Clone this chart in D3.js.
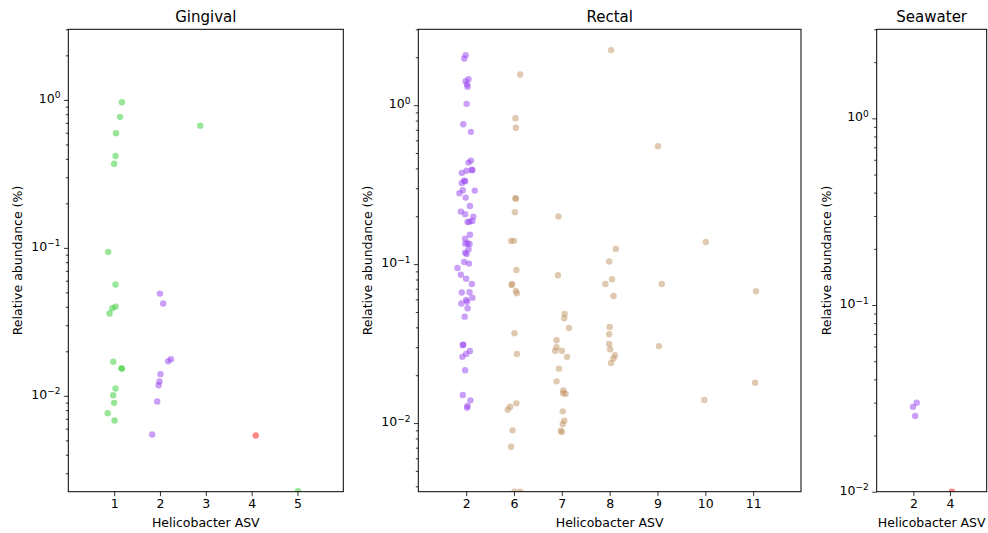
<!DOCTYPE html>
<html>
<head>
<meta charset="utf-8">
<script src="https://cdn.jsdelivr.net/npm/d3@7"></script>
<style>
  body { margin: 0; background: #fff; }
  svg text { font-family: "DejaVu Sans", sans-serif; fill: #000; }
</style>
</head>
<body>
<svg id="chart" width="988" height="533"></svg>
<script>
// Helicobacter ASV categories shown in each sample type
const gingivalAsv = [1, 2, 3, 4, 5];
const rectalAsv = [2, 6, 7, 8, 9, 10, 11];
const seawaterAsv = [2, 4];

// y limits, relative abundance (%)
const gingivalYLim = [0.00225, 3];
const rectalYLim = [0.0037, 3];
const seawaterYLim = [0.01, 3];

// points: [asv, strip jitter, relative abundance (%)]
const gingivalPoints = [
  [1, 0.17, 0.965], [1, 0.13, 0.768], [1, 0.04, 0.596], [1, 0.03, 0.418],
  [1, 0.00, 0.370], [1, -0.13, 0.094], [1, 0.03, 0.0565], [1, 0.03, 0.0401],
  [1, -0.04, 0.0391], [1, -0.10, 0.0360], [1, -0.02, 0.0170], [1, 0.16, 0.01534],
  [1, 0.17, 0.01528], [1, 0.03, 0.0112], [1, -0.02, 0.0101], [1, 0.00, 0.00897],
  [1, -0.14, 0.00764], [1, 0.01, 0.00681],
  [2, 0.00, 0.0491], [2, 0.07, 0.0421], [2, 0.24, 0.0177], [2, 0.18, 0.01715],
  [2, 0.01, 0.01402], [2, -0.01, 0.0125], [2, -0.03, 0.0118], [2, -0.06, 0.00916],
  [2, -0.17, 0.00548],
  [3, -0.12, 0.670],
  [4, 0.09, 0.0054],
  [5, 0.01, 0.00227]
];

const rectalPoints = [
  [2, -0.01, 2.064], [2, -0.04, 1.966], [2, 0.05, 1.458], [2, -0.01, 1.416],
  [2, 0.02, 1.348], [2, 0.03, 1.304], [2, 0.01, 1.019], [2, -0.06, 0.759],
  [2, 0.10, 0.679], [2, 0.10, 0.448], [2, 0.05, 0.435], [2, 0.13, 0.390],
  [2, 0.12, 0.392], [2, 0.01, 0.387], [2, -0.09, 0.375], [2, -0.04, 0.335],
  [2, -0.02, 0.332], [2, -0.09, 0.324], [2, -0.07, 0.2917], [2, -0.14, 0.279],
  [2, 0.18, 0.290], [2, -0.01, 0.262], [2, 0.08, 0.232], [2, -0.11, 0.214],
  [2, -0.02, 0.206], [2, 0.15, 0.199], [2, 0.13, 0.187], [2, 0.03, 0.184],
  [2, 0.07, 0.185], [2, 0.08, 0.153], [2, -0.02, 0.1446], [2, 0.03, 0.1353],
  [2, 0.07, 0.1339], [2, -0.02, 0.1345], [2, 0.05, 0.124], [2, -0.02, 0.118],
  [2, 0.01, 0.1158], [2, -0.04, 0.1031], [2, 0.06, 0.1007], [2, -0.18, 0.0946],
  [2, -0.11, 0.0858], [2, 0.00, 0.081], [2, 0.12, 0.075], [2, -0.09, 0.0663],
  [2, 0.07, 0.0665], [2, 0.13, 0.0615], [2, 0.00, 0.0595], [2, 0.02, 0.058],
  [2, -0.10, 0.0565], [2, 0.03, 0.0528], [2, -0.03, 0.0467], [2, -0.06, 0.0311],
  [2, -0.07, 0.0310], [2, 0.08, 0.0284], [2, 0.00, 0.0272], [2, -0.08, 0.0261],
  [2, -0.02, 0.0215], [2, -0.07, 0.0150], [2, 0.09, 0.0139], [2, 0.03, 0.0128],
  [2, 0.02, 0.0125],
  [6, 0.13, 1.558], [6, 0.03, 0.828], [6, 0.04, 0.720], [6, 0.03, 0.260],
  [6, 0.04, 0.258], [6, 0.02, 0.212], [6, -0.06, 0.140], [6, 0.00, 0.140],
  [6, 0.05, 0.0919], [6, -0.04, 0.075], [6, -0.05, 0.074], [6, 0.04, 0.0678],
  [6, 0.06, 0.0655], [6, 0.01, 0.0367], [6, 0.06, 0.0272], [6, -0.08, 0.01267],
  [6, -0.13, 0.01213], [6, 0.05, 0.0133], [6, -0.03, 0.0090], [6, -0.06, 0.0071],
  [6, 0.01, 0.0037], [6, 0.13, 0.0037],
  [7, -0.08, 0.0851], [7, -0.07, 0.1995], [7, 0.06, 0.0486], [7, 0.05, 0.0456],
  [7, 0.15, 0.0396], [7, -0.11, 0.0332], [7, -0.11, 0.0300], [7, -0.14, 0.0285],
  [7, 0.00, 0.0285], [7, 0.11, 0.0261], [7, -0.06, 0.0220], [7, -0.11, 0.0183],
  [7, 0.03, 0.01606], [7, 0.03, 0.0154], [7, 0.08, 0.0153], [7, 0.02, 0.01185],
  [7, 0.05, 0.01034], [7, 0.02, 0.00986], [7, -0.02, 0.00894], [7, 0.00, 0.00878],
  [8, 0.03, 2.220], [8, 0.13, 0.1246], [8, -0.01, 0.1039], [8, 0.05, 0.0803],
  [8, -0.09, 0.075], [8, 0.08, 0.0630], [8, 0.00, 0.0402], [8, -0.01, 0.0362],
  [8, -0.01, 0.0314], [8, 0.01, 0.0291], [8, 0.11, 0.0267], [8, 0.08, 0.0255],
  [8, 0.03, 0.0239],
  [9, 0.01, 0.552], [9, 0.09, 0.075], [9, 0.03, 0.0305],
  [10, 0.01, 0.1378], [10, -0.02, 0.01396],
  [11, 0.06, 0.0675], [11, 0.04, 0.01794]
];

const seawaterPoints = [
  [2, -0.01, 0.02848], [2, 0.09, 0.0300], [2, 0.05, 0.02548],
  [4, 0.05, 0.0100]
];

// colour of each ASV (drawn at half opacity)
const asvColor = {
  1: "#32cd32", 3: "#32cd32", 5: "#32cd32",
  2: "#9540f0",
  4: "#ff1212",
  6: "#c19463", 7: "#c19463", 8: "#c19463", 9: "#c19463", 10: "#c19463", 11: "#c19463"
};

const svg = d3.select("#chart");
const axTop = 29.3, axBottom = 491.7;

const panels = [
  { title: "Gingival", left: 68.3, right: 343.3, cats: gingivalAsv, points: gingivalPoints, ylim: gingivalYLim },
  { title: "Rectal", left: 418.3, right: 801, cats: rectalAsv, points: rectalPoints, ylim: rectalYLim },
  { title: "Seawater", left: 876.7, right: 986.7, cats: seawaterAsv, points: seawaterPoints, ylim: seawaterYLim }
];

const supMap = { "0": "0", "-1": "\u22121", "-2": "\u22122", "-3": "\u22123" };

panels.forEach((p, i) => {
  const x = d3.scaleLinear().domain([0, p.cats.length + 1]).range([p.left, p.right]);
  const y = d3.scaleLog().domain(p.ylim).range([axBottom, axTop]);
  const g = svg.append("g");

  // clip so points on the limits are cut like in matplotlib
  svg.append("clipPath").attr("id", "clip" + i)
    .append("rect")
    .attr("x", p.left).attr("y", axTop)
    .attr("width", p.right - p.left).attr("height", axBottom - axTop);

  // major / minor log ticks
  const majors = [], minors = [];
  for (let e = -3; e <= 0; e++) {
    for (let m = 1; m <= 9; m++) {
      const v = m * Math.pow(10, e);
      if (v < p.ylim[0] * 0.999 || v > p.ylim[1] * 1.001) continue;
      (m === 1 ? majors : minors).push(v);
    }
  }

  g.append("g")
    .attr("transform", `translate(${p.left},0)`)
    .call(d3.axisLeft(y).tickValues(minors).tickSize(2.5).tickFormat(""))
    .call(a => a.select(".domain").remove())
    .call(a => a.selectAll("line").attr("stroke", "#000").attr("stroke-width", 0.8));

  const yAx = g.append("g")
    .attr("transform", `translate(${p.left},0)`)
    .call(d3.axisLeft(y).tickValues(majors).tickSize(4.4).tickPadding(3.5).tickFormat(""))
    .call(a => a.select(".domain").remove())
    .call(a => a.selectAll("line").attr("stroke", "#000").attr("stroke-width", 0.8));

  yAx.selectAll(".tick text")
    .attr("font-size", 12.5)
    .attr("fill", "#000")
    .attr("dy", "0.2em")
    .each(function (d) {
      const t = d3.select(this);
      const ex = Math.round(Math.log10(d));
      t.append("tspan").text("10");
      t.append("tspan").attr("dy", "-0.5em").attr("font-size", 9).text(supMap[String(ex)]);
    });

  const xAx = g.append("g")
    .attr("transform", `translate(0,${axBottom})`)
    .call(d3.axisBottom(x)
      .tickValues(p.cats.map((c, k) => k + 1))
      .tickFormat((d, k) => p.cats[k])
      .tickSize(4.4).tickPadding(3))
    .call(a => a.select(".domain").remove())
    .call(a => a.selectAll("line").attr("stroke", "#000").attr("stroke-width", 0.8));
  xAx.selectAll("text").attr("font-size", 12.5).attr("fill", "#000");

  // points
  const catIndex = new Map(p.cats.map((c, k) => [c, k + 1]));
  g.append("g")
    .attr("clip-path", `url(#clip${i})`)
    .selectAll("circle")
    .data(p.points)
    .enter().append("circle")
    .attr("cx", d => x(catIndex.get(d[0]) + d[1]))
    .attr("cy", d => y(d[2]))
    .attr("r", 3.2)
    .attr("fill", d => asvColor[d[0]])
    .attr("fill-opacity", 0.5);

  // frame
  g.append("rect")
    .attr("x", p.left).attr("y", axTop)
    .attr("width", p.right - p.left).attr("height", axBottom - axTop)
    .attr("fill", "none").attr("stroke", "#000").attr("stroke-width", 1);

  // titles and labels
  g.append("text")
    .attr("x", (p.left + p.right) / 2).attr("y", 21.5)
    .attr("text-anchor", "middle").attr("font-size", 15)
    .text(p.title);

  g.append("text")
    .attr("x", (p.left + p.right) / 2).attr("y", 526.5)
    .attr("text-anchor", "middle").attr("font-size", 12.5)
    .text("Helicobacter ASV");

  g.append("text")
    .attr("transform", `translate(${p.left - 50.3},${(axTop + axBottom) / 2}) rotate(-90)`)
    .attr("dy", "0.35em")
    .attr("text-anchor", "middle").attr("font-size", 12.5)
    .text("Relative abundance (%)");
});
</script>
</body>
</html>
